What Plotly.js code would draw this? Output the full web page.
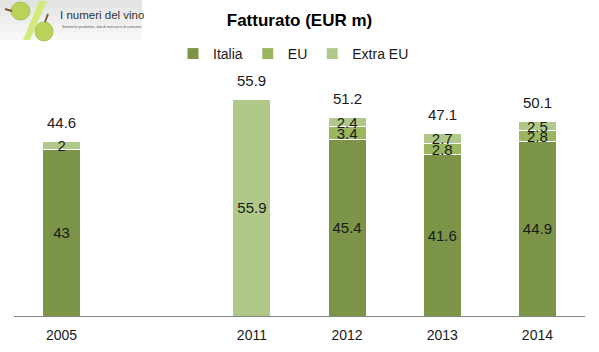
<!DOCTYPE html>
<html>
<head>
<meta charset="utf-8">
<script src="https://cdn.plot.ly/plotly-3.0.1.min.js"></script>
<style>html,body{margin:0;padding:0;background:#fff}#chart{width:599px;height:352px}</style>
</head>
<body>
<div id="chart"></div>
<script>
// ---- data ----
var categories = ['2005', 'gap', '2011', '2012', '2013', '2014'];
var tickLabels = ['2005', '', '2011', '2012', '2013', '2014'];
var italia  = [43, null, null, 45.4, 41.6, 44.9];
var eu      = [null, null, null, 3.4, 2.8, 2.8];
var extraEu = [2, null, 55.9, 2.4, 2.7, 2.5];
var totals  = [44.6, null, 55.9, 51.2, 47.1, 50.1];
var seriesNames = ['Italia', 'EU', 'Extra EU'];
var chartTitle = 'Fatturato (EUR m)';
var logoTitle = 'I numeri del vino';
var logoSub = 'Statistiche produttive, dati di mercato e di consumo.';

var FONT = 'Liberation Sans, Arial, sans-serif';
var colors = ['#7b9447', '#9bb65e', '#b0c98b'];

function lbl(arr){ return arr.map(function(v){ return v === null ? '' : String(v); }); }

function barTrace(name, vals, color){
  return {
    type: 'bar', name: name, x: categories, y: vals,
    marker: {color: color, line: {color: '#ffffff', width: 1}},
    text: lbl(vals), textposition: 'inside', insidetextanchor: 'middle',
    textangle: 0, constraintext: 'none', cliponaxis: false,
    textfont: {family: FONT, size: 15, color: '#1a1a1a'},
    hoverinfo: 'none'
  };
}

var data = [
  barTrace(seriesNames[0], italia, colors[0]),
  barTrace(seriesNames[1], eu, colors[1]),
  barTrace(seriesNames[2], extraEu, colors[2])
];

// total labels above stacks (x given as category index)
var annotations = [];
categories.forEach(function(c, i){
  if (totals[i] === null) return;
  var top = (italia[i]||0) + (eu[i]||0) + (extraEu[i]||0);
  annotations.push({x: i, y: top, xref: 'x', yref: 'y', text: String(totals[i]),
    showarrow: false, xanchor: 'center', yanchor: 'bottom', yshift: 8,
    font: {family: FONT, size: 15, color: '#1a1a1a'}});
});

// logo (pixel helpers in paper coords)
var L = 14, R = 585, T = 40, B = 316;
function px(x){ return (x - L) / (R - L); }
function py(y){ return (B - y) / (B - T); }

var shapes = [];
var greys = ['#e4e4e4', '#e9e9e9', '#eeeeee', '#f3f3f3', '#f8f8f8'];
for (var k = 0; k < greys.length; k++) {
  shapes.push({type: 'rect', xref: 'paper', yref: 'paper', layer: 'below',
    x0: px(0), x1: px(142), y0: py(k * 8), y1: py(k * 8 + 8),
    fillcolor: greys[k], line: {width: 0}});
}
// slash
shapes.push({type: 'path', xref: 'paper', yref: 'paper',
  path: 'M' + px(39) + ',' + py(1) + ' L' + px(47) + ',' + py(1) + ' L' + px(30) + ',' + py(40) + ' L' + px(23) + ',' + py(40) + ' Z',
  fillcolor: '#d3ea7e', line: {width: 0}});
// grapes
shapes.push({type: 'circle', xref: 'paper', yref: 'paper',
  x0: px(11), x1: px(30), y0: py(2), y1: py(20), fillcolor: '#b9d35a', line: {color: '#a8c24a', width: 1}});
shapes.push({type: 'circle', xref: 'paper', yref: 'paper',
  x0: px(35), x1: px(53), y0: py(22), y1: py(41), fillcolor: '#b9d35a', line: {color: '#a8c24a', width: 1}});
shapes.push({type: 'line', xref: 'paper', yref: 'paper',
  x0: px(5), x1: px(12), y0: py(9), y1: py(11), line: {color: '#7a5a2a', width: 2}});
shapes.push({type: 'line', xref: 'paper', yref: 'paper',
  x0: px(45), x1: px(48), y0: py(22), y1: py(14), line: {color: '#7a5a2a', width: 2}});

annotations.push({xref: 'paper', yref: 'paper', x: px(58), y: py(15), xanchor: 'left', yanchor: 'middle',
  text: logoTitle, showarrow: false, font: {family: FONT, size: 11.5, color: '#333333'}});
annotations.push({xref: 'paper', yref: 'paper', x: px(60), y: py(27), xanchor: 'left', yanchor: 'middle',
  text: logoSub, showarrow: false, font: {family: FONT, size: 3.5, color: '#555555'}});

var pxPerUnit = 3.88;
var layout = {
  width: 599, height: 352,
  margin: {l: L, r: 599 - R, t: T, b: 352 - B, pad: 0, autoexpand: false},
  paper_bgcolor: '#ffffff', plot_bgcolor: '#ffffff',
  barmode: 'stack', bargap: 0.6,
  showlegend: true,
  title: {text: '<b>' + chartTitle + '</b>', x: 0.5, xref: 'container', xanchor: 'center',
    y: 1 - 20 / 352, yref: 'container', yanchor: 'middle',
    font: {family: FONT, size: 17, color: '#000000'}},
  legend: {orientation: 'h', x: 0.49, xref: 'container', xanchor: 'center',
    y: 1 - 38 / 352, yref: 'container', yanchor: 'top',
    font: {family: FONT, size: 14, color: '#1a1a1a'}, traceorder: 'normal',
    itemwidth: 30, itemclick: false},
  xaxis: {type: 'category', categoryorder: 'array', categoryarray: categories,
    tickmode: 'array', tickvals: categories, ticktext: tickLabels,
    range: [-0.5, categories.length - 0.5],
    showline: true, linecolor: '#868686', linewidth: 1, ticks: '', showgrid: false,
    zeroline: false, tickfont: {family: FONT, size: 14, color: '#1a1a1a'}, ticklabelstandoff: 6},
  yaxis: {range: [0, (B - T) / pxPerUnit], visible: false, showgrid: false, zeroline: false},
  shapes: shapes,
  annotations: annotations,
  font: {family: FONT}
};

Plotly.newPlot('chart', data, layout, {displayModeBar: false, staticPlot: true});
</script>
</body>
</html>
